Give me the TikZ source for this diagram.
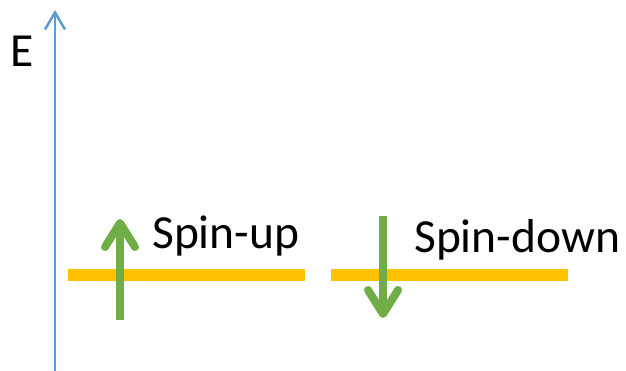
\documentclass[tikz,border=0pt]{standalone}
\usepackage{fontspec}
\setmainfont{Carlito}
\usetikzlibrary{arrows.meta}
\definecolor{axisblue}{HTML}{5B9BD5}
\definecolor{levelorange}{HTML}{FFC000}
\definecolor{spingreen}{HTML}{70AD47}
\tikzset{
  axisline/.style={draw=axisblue, line width=2.5pt, -{Straight Barb[length=17pt,width=20pt,line width=2.5pt]}},
  level/.style={draw=levelorange, line width=12pt},
  spin/.style={draw=spingreen, line width=8pt, -{Straight Barb[length=24pt,width=30pt,round,line width=8pt]}},
  lbl/.style={inner sep=0pt, anchor=base west, font=\fontsize{47.5}{57}\selectfont}
}
\begin{document}
\begin{tikzpicture}[x=1pt,y=-1pt]
\useasboundingbox (0,0) rectangle (626,371);
% energy axis
\coordinate (axb) at (55,371);
\coordinate (axt) at (55,10);
\draw[axisline] (axb) -- (axt);
\node[lbl] (E) at (10,67) {E};
% levels
\coordinate (l1a) at (68,275);
\coordinate (l1b) at (305,275);
\coordinate (l2a) at (331,275);
\coordinate (l2b) at (568,275);
\draw[level] (l1a) -- (l1b);
\draw[level] (l2a) -- (l2b);
% spins
\coordinate (upb) at (120,320);
\coordinate (upt) at (120,219);
\coordinate (dnt) at (383,216);
\coordinate (dnb) at (383,318);
\draw[spin] (upb) -- (upt);
\draw[spin] (dnt) -- (dnb);
\node[lbl] (su) at (152,248) {Spin-up};
\node[lbl] (sd) at (414,253) {Spin-down};
\end{tikzpicture}
\end{document}
